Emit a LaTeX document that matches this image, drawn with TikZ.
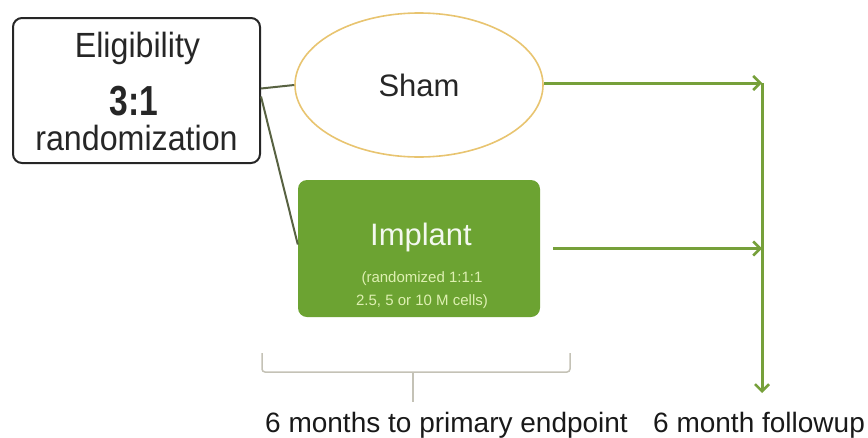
\documentclass[tikz,border=0pt]{standalone}
\usepackage{fontspec}
\setmainfont{Liberation Sans}
\newfontfamily\narrowsans[FakeStretch=0.92]{Liberation Sans}
\newfontfamily\ratiosans[FakeStretch=0.8]{Liberation Sans}
\usepackage{tikz}
\usetikzlibrary{shapes.geometric,arrows.meta}

\definecolor{implantgreen}{RGB}{108,163,50}
\definecolor{arrowgreen}{RGB}{118,160,58}
\definecolor{shamgold}{RGB}{232,196,112}
\definecolor{linkolive}{RGB}{88,98,66}
\definecolor{bracegray}{RGB}{196,194,182}
\definecolor{smallgreen}{RGB}{222,240,178}

\tikzset{
  eligbox/.style={draw=black!85, line width=2pt, rounded corners=9pt,
    minimum width=247pt, minimum height=145pt, inner sep=0pt},
  shambox/.style={ellipse, draw=shamgold, line width=1.6pt, inner sep=0pt,
    minimum width=248pt, minimum height=144pt,
    font=\fontsize{31pt}{33pt}\selectfont, text=black!85},
  implantbox/.style={fill=implantgreen, rounded corners=9pt, inner sep=0pt,
    minimum width=242pt, minimum height=137pt},
  bigtext/.style={font=\fontsize{35pt}{37pt}\narrowsans, text=black!85, inner sep=0pt, anchor=base},
  smalltext/.style={font=\fontsize{15pt}{17pt}\selectfont, text=smallgreen, inner sep=0pt, anchor=base},
  bottomtext/.style={font=\fontsize{28pt}{30pt}\selectfont, text=black!90, inner sep=0pt, anchor=base west},
  link/.style={draw=linkolive, line width=2pt},
  flow/.style={draw=arrowgreen, line width=3pt,
    -{Straight Barb[length=7pt,width=14pt,line width=2.5pt]}},
  brace/.style={draw=bracegray, line width=1.5pt, rounded corners=3pt},
}

\begin{document}
\begin{tikzpicture}[x=1pt,y=-1pt]
    \useasboundingbox (0,0) rectangle (868,437);

    \node[eligbox] (elig) at (136.5,90.5) {};
    \node[bigtext] (eligtop) at (137.5,57) {Eligibility};
    \node[bigtext, font=\fontsize{42pt}{44pt}\ratiosans\bfseries] (ratio) at (134,115) {3:1};
    \node[bigtext] (eligbot) at (136.5,150) {randomization};

    \node[shambox] (sham) at (419,85) {Sham};

    \node[implantbox] (implant) at (419,248.5) {};
    \node[bigtext, font=\fontsize{31pt}{33pt}\selectfont, text=white!92!implantgreen] (implanttxt) at (421,245) {Implant};
    \node[smalltext] (dose1) at (422,282) {(randomized 1:1:1};
    \node[smalltext] (dose2) at (422,305) {2.5, 5 or 10 M cells)};

    \coordinate (corner) at (762,83);
    \coordinate (end) at (762,393);

    \path[link] ([yshift=2pt]elig.east) edge (sham.west);
    \path[link] ([yshift=-6pt]elig.east) edge ([yshift=4pt]implant.west);

    \draw[flow] (sham.east |- corner) -- (corner);
    \draw[flow] ([xshift=13pt]implant.east) -- (implant.east -| end);
    \draw[flow] (corner) -- (end);

    \draw[brace] (262,353) -- (262,372) -- (570,372) -- (570,353);
    \draw[brace] (413,372) -- (413,402);

    \node[bottomtext] (primary) at (265,432) {6 months to primary endpoint};
    \node[bottomtext] (followup) at (653,432) {6 month followup};
\end{tikzpicture}
\end{document}
